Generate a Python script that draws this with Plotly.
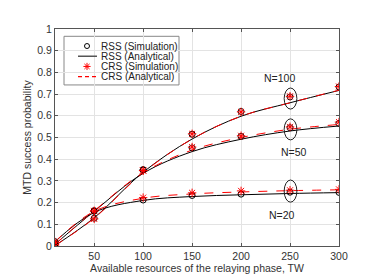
import plotly.graph_objects as go

x = [10, 50, 100, 150, 200, 250, 300]

# Simulation points
rss_sim_100 = [0.006, 0.128, 0.352, 0.515, 0.620, 0.687, 0.733]
crs_sim_100 = [0.004, 0.125, 0.348, 0.517, 0.618, 0.690, 0.735]
rss_sim_50 = [0.010, 0.163, 0.350, 0.452, 0.505, 0.545, 0.565]
crs_sim_50 = [0.008, 0.160, 0.347, 0.456, 0.508, 0.549, 0.571]
rss_sim_20 = [0.020, 0.160, 0.212, 0.233, 0.239, 0.248, 0.247]
crs_sim_20 = [0.018, 0.162, 0.223, 0.245, 0.254, 0.257, 0.261]

# Analytical curves
rss_ana_100 = [0.002, 0.130, 0.340, 0.493, 0.598, 0.660, 0.717]
crs_ana_100 = [0.002, 0.128, 0.338, 0.493, 0.598, 0.660, 0.718]
rss_ana_50 = [0.008, 0.160, 0.335, 0.435, 0.492, 0.530, 0.553]
crs_ana_50 = [0.008, 0.162, 0.338, 0.442, 0.500, 0.538, 0.560]
rss_ana_20 = [0.020, 0.155, 0.210, 0.228, 0.236, 0.242, 0.246]
crs_ana_20 = [0.020, 0.160, 0.220, 0.240, 0.249, 0.255, 0.259]

x_ticks = [50, 100, 150, 200, 250, 300]
y_ticks = [0, 0.1, 0.2, 0.3, 0.4, 0.5, 0.6, 0.7, 0.8, 0.9, 1]
y_ticktext = ["0", "0.1", "0.2", "0.3", "0.4", "0.5", "0.6", "0.7", "0.8", "0.9", "1"]

labels = ["N=100", "N=50", "N=20"]
label_x = [239, 254, 242]
label_y = [0.773, 0.432, 0.143]

legend_names = ["RSS (Simulation)", "RSS (Analytical)", "CRS (Simulation)", "CRS (Analytical)"]

fig = go.Figure()

for ra, ca in [(rss_ana_100, crs_ana_100), (rss_ana_50, crs_ana_50), (rss_ana_20, crs_ana_20)]:
    fig.add_trace(go.Scatter(x=x, y=ra, mode="lines",
                             line=dict(color="black", width=1, shape="spline", smoothing=1.0),
                             showlegend=False))
    fig.add_trace(go.Scatter(x=x, y=ca, mode="lines",
                             line=dict(color="red", width=1, dash="dash", shape="spline", smoothing=1.0),
                             showlegend=False))

for rs, cs in [(rss_sim_100, crs_sim_100), (rss_sim_50, crs_sim_50), (rss_sim_20, crs_sim_20)]:
    fig.add_trace(go.Scatter(x=x, y=rs, mode="markers",
                             marker=dict(symbol="circle-open", size=6, color="black", line=dict(width=1)),
                             showlegend=False))
    fig.add_trace(go.Scatter(x=x, y=cs, mode="markers",
                             marker=dict(symbol="asterisk-open", size=7, color="red",
                                         line=dict(width=1, color="red")),
                             showlegend=False))

for t, lx, ly in zip(labels, label_x, label_y):
    fig.add_annotation(x=lx, y=ly, xref="x", yref="y", text=t, showarrow=False,
                       font=dict(size=10.5, color="#222"))

for y0, y1 in [(0.631, 0.728), (0.489, 0.586), (0.202, 0.304)]:
    fig.add_shape(type="circle", xref="x", yref="y", x0=244, x1=257, y0=y0, y1=y1,
                  line=dict(color="#222", width=1))

# ---- manual legend on an overlay axis in pixel units ----
L, R, T, B = 47, 331, 21, 244
fig.add_shape(type="rect", xref="x2", yref="y2", x0=56, x1=171, y0=28.5, y1=78.5,
              line=dict(color="#888", width=1), fillcolor="white", layer="below")
row_y = [38.5, 49, 59.5, 70]
fig.add_trace(go.Scatter(x=[79], y=[row_y[0]], xaxis="x2", yaxis="y2", mode="markers",
                         marker=dict(symbol="circle-open", size=5, color="black", line=dict(width=1)),
                         showlegend=False, hoverinfo="skip"))
fig.add_trace(go.Scatter(x=[70, 89], y=[row_y[1], row_y[1]], xaxis="x2", yaxis="y2", mode="lines",
                         line=dict(color="#555", width=1.5), showlegend=False, hoverinfo="skip"))
fig.add_trace(go.Scatter(x=[79], y=[row_y[2]], xaxis="x2", yaxis="y2", mode="markers",
                         marker=dict(symbol="asterisk-open", size=6, color="red",
                                     line=dict(width=1, color="red")),
                         showlegend=False, hoverinfo="skip"))
fig.add_trace(go.Scatter(x=[70, 89], y=[row_y[3], row_y[3]], xaxis="x2", yaxis="y2", mode="lines",
                         line=dict(color="red", width=1.2, dash="4px,3px"),
                         showlegend=False, hoverinfo="skip"))
for name, ry in zip(legend_names, row_y):
    fig.add_annotation(x=90.5, y=ry, xref="x2", yref="y2", text=name, showarrow=False,
                       xanchor="left", yanchor="middle", font=dict(size=10, color="#222"))

axis_common = dict(showline=True, linecolor="#555", linewidth=1, mirror="ticks",
                   ticks="inside", ticklen=3, tickcolor="#555",
                   showgrid=True, gridcolor="#e3e3e3", gridwidth=1, zeroline=False,
                   tickfont=dict(size=10.5, color="#333"))

fig.update_layout(
    width=366, height=274,
    margin=dict(l=47, r=35, t=21, b=30),
    paper_bgcolor="white", plot_bgcolor="white",
    font=dict(family="Liberation Sans, Arial, sans-serif", size=10.5, color="#333"),
    showlegend=False,
    xaxis=dict(range=[10, 300], tickmode="array", tickvals=x_ticks, domain=[0, 1], anchor="y",
               title=dict(text="Available resources of the relaying phase, TW",
                          font=dict(size=10.5, color="#333"), standoff=1),
               **axis_common),
    yaxis=dict(range=[0, 1], tickmode="array", tickvals=y_ticks, ticktext=y_ticktext,
               domain=[0, 1], anchor="x",
               title=dict(text="MTD success probability", font=dict(size=10.5, color="#333"), standoff=3),
               **axis_common),
    xaxis2=dict(overlaying="x", range=[L, R], visible=False, anchor="y2", fixedrange=True),
    yaxis2=dict(overlaying="y", range=[B, T], visible=False, anchor="x2", fixedrange=True),
)

fig.write_html("out.html")
